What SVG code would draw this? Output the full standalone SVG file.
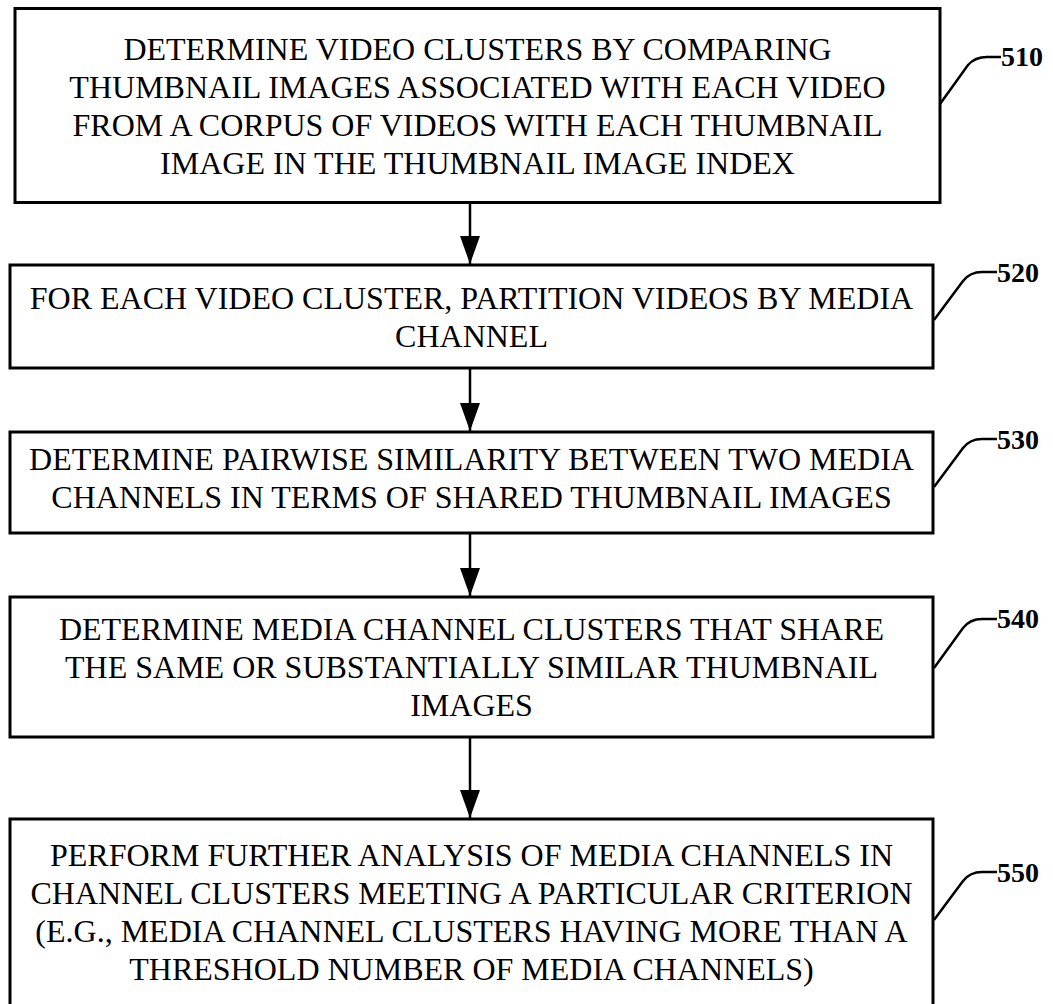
<svg xmlns="http://www.w3.org/2000/svg" width="1053" height="1004" viewBox="0 0 1053 1004">
  <style>
    .box { fill: #fff; stroke: #000; stroke-width: 3; }
    .txt { font-family: "Liberation Serif", "Times New Roman", serif; font-size: 32px; fill: #000; text-anchor: middle; }
    .ref { font-family: "Liberation Serif", "Times New Roman", serif; font-size: 28px; font-weight: bold; fill: #000; }
    .lead { fill: none; stroke: #000; stroke-width: 2.5; }
    .flow { stroke: #000; stroke-width: 2.5; }
  </style>
  <defs>
    <!-- solid arrowhead, drawn along +x so orient="auto" turns it with the line -->
    <marker id="arrow" viewBox="0 0 28 20" refX="28" refY="10" markerWidth="28" markerHeight="20" markerUnits="userSpaceOnUse" orient="auto">
      <path d="M0 0 L28 10 L0 20 Z" fill="#000"/>
    </marker>
  </defs>
  <rect width="1053" height="1004" fill="#fff"/>

  <!-- step 510 -->
  <g id="step510">
    <rect class="box" x="15" y="8.5" width="925" height="194"/>
    <text class="txt" x="477.5" y="59.5">DETERMINE VIDEO CLUSTERS BY COMPARING</text>
    <text class="txt" x="477.5" y="97.5">THUMBNAIL IMAGES ASSOCIATED WITH EACH VIDEO</text>
    <text class="txt" x="477.5" y="135.5">FROM A CORPUS OF VIDEOS WITH EACH THUMBNAIL</text>
    <text class="txt" x="477.5" y="173.5">IMAGE IN THE THUMBNAIL IMAGE INDEX</text>
    <path class="lead" d="M940 104 L968 65 Q975 57 987 57 L1001 57"/>
    <text class="ref" x="1001" y="66">510</text>
  </g>

  <!-- step 520 -->
  <g id="step520">
    <rect class="box" x="10" y="265" width="923" height="103"/>
    <text class="txt" x="471.5" y="308.5">FOR EACH VIDEO CLUSTER, PARTITION VIDEOS BY MEDIA</text>
    <text class="txt" x="471.5" y="346.5">CHANNEL</text>
    <path class="lead" d="M934 320 L963 281 Q970 272 982 272 L997 272"/>
    <text class="ref" x="997" y="282">520</text>
  </g>

  <!-- step 530 -->
  <g id="step530">
    <rect class="box" x="10" y="432" width="923" height="101"/>
    <text class="txt" x="471.5" y="470">DETERMINE PAIRWISE SIMILARITY BETWEEN TWO MEDIA</text>
    <text class="txt" x="471.5" y="508">CHANNELS IN TERMS OF SHARED THUMBNAIL IMAGES</text>
    <path class="lead" d="M934 487 L963 448 Q970 439 982 439 L997 439"/>
    <text class="ref" x="997" y="449">530</text>
  </g>

  <!-- step 540 -->
  <g id="step540">
    <rect class="box" x="10" y="597" width="923" height="140"/>
    <text class="txt" x="471.5" y="640">DETERMINE MEDIA CHANNEL CLUSTERS THAT SHARE</text>
    <text class="txt" x="471.5" y="678">THE SAME OR SUBSTANTIALLY SIMILAR THUMBNAIL</text>
    <text class="txt" x="471.5" y="716">IMAGES</text>
    <path class="lead" d="M934 668 L963 628 Q970 619 982 619 L997 619"/>
    <text class="ref" x="997" y="628">540</text>
  </g>

  <!-- step 550 -->
  <g id="step550">
    <rect class="box" x="10" y="819" width="923" height="205"/>
    <text class="txt" x="471.5" y="866">PERFORM FURTHER ANALYSIS OF MEDIA CHANNELS IN</text>
    <text class="txt" x="471.5" y="904">CHANNEL CLUSTERS MEETING A PARTICULAR CRITERION</text>
    <text class="txt" x="471.5" y="942">(E.G., MEDIA CHANNEL CLUSTERS HAVING MORE THAN A</text>
    <text class="txt" x="471.5" y="980">THRESHOLD NUMBER OF MEDIA CHANNELS)</text>
    <path class="lead" d="M934 920 L963 881 Q970 872 982 872 L997 872"/>
    <text class="ref" x="997" y="882">550</text>
  </g>

  <!-- flow arrows -->
  <g id="connectors">
    <line class="flow" x1="470" y1="203" x2="470" y2="264" marker-end="url(#arrow)"/>
    <line class="flow" x1="470" y1="368" x2="470" y2="431" marker-end="url(#arrow)"/>
    <line class="flow" x1="470" y1="533" x2="470" y2="596" marker-end="url(#arrow)"/>
    <line class="flow" x1="470" y1="737" x2="470" y2="818" marker-end="url(#arrow)"/>
  </g>
</svg>
